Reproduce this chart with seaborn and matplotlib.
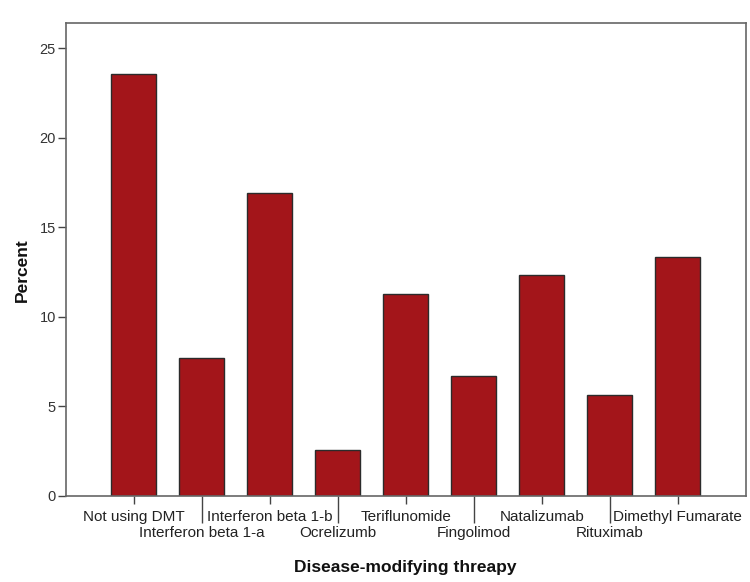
import matplotlib

matplotlib.use("Agg")

import matplotlib.pyplot as plt
import pandas as pd
import seaborn as sns

therapies = [
    "Not using DMT",
    "Interferon beta 1-a",
    "Interferon beta 1-b",
    "Ocrelizumb",
    "Teriflunomide",
    "Fingolimod",
    "Natalizumab",
    "Rituximab",
    "Dimethyl Fumarate",
]
percents = [23.59, 7.69, 16.92, 2.56, 11.28, 6.67, 12.31, 5.64, 13.33]
y_ticks = [0, 5, 10, 15, 20, 25]

data = pd.DataFrame({"therapy": therapies, "percent": percents})

sns.set_style("white")
plt.rcParams["font.family"] = ["Liberation Sans", "DejaVu Sans"]

figure = plt.figure(figsize=(7.5, 5.82), dpi=100)
axis = figure.add_axes([0.0876, 0.1486, 0.9067, 0.8114])

sns.barplot(
    data=data,
    x="therapy",
    y="percent",
    color="#A3151A",
    saturation=1,
    width=0.66,
    edgecolor="#2b2b2b",
    linewidth=1,
    ax=axis,
)

axis.set_xlim(-1, 9)
axis.set_ylim(0, 26.4)
axis.set_yticks(y_ticks)
axis.set_yticklabels([str(t) for t in y_ticks], fontsize=10.5, color="#333333")

axis.set_xticks(range(len(therapies)))
axis.set_xticklabels(therapies, fontsize=11, color="#222222")
axis.tick_params(axis="x", direction="out", length=5.8, width=1, color="#444444",
                 bottom=True, pad=4.5)
axis.tick_params(axis="y", direction="out", length=5.5, width=1, color="#444444",
                 left=True, pad=1.5)
# staggered labels like the SPSS output: every second label sits one row lower
for i, tick in enumerate(axis.xaxis.get_major_ticks()):
    if i % 2 == 1:
        tick.set_pad(16.5)
        tick.tick1line.set_markersize(19.4)

for spine in axis.spines.values():
    spine.set_color("#666666")
    spine.set_linewidth(1.2)

axis.set_xlabel("Disease-modifying threapy", fontsize=12.5, fontweight="bold",
                color="#111111")
axis.set_ylabel("Percent", fontsize=12.5, fontweight="bold", color="#111111")
axis.xaxis.set_label_coords(0.5, -0.137)
axis.yaxis.set_label_coords(-0.052, 0.478)

figure.savefig("out.png", dpi=100)
plt.close(figure)
